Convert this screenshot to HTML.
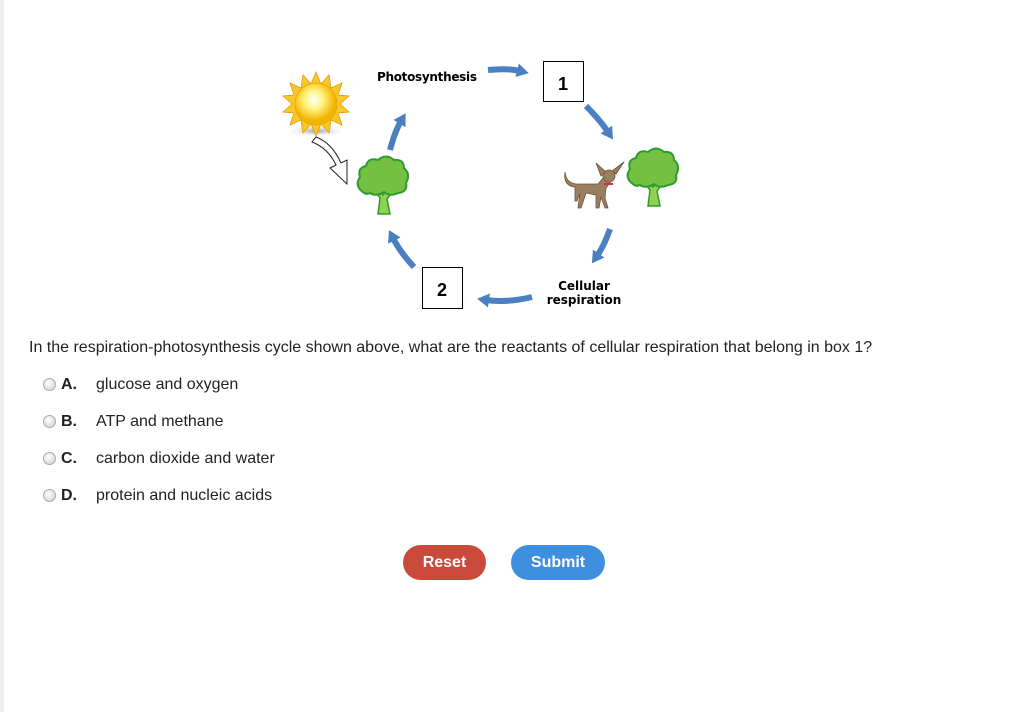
<!DOCTYPE html>
<html><head><style>
body{margin:0;width:1011px;height:712px;background:#fff;position:relative;overflow:hidden;font-family:"Liberation Sans",Arial,sans-serif;}
.lb{position:absolute;left:0;top:0;width:4px;height:712px;background:#eee;}
.q{position:absolute;left:29px;top:339px;font-size:16px;color:#222;white-space:nowrap;}
.opt{position:absolute;left:43px;font-size:16px;color:#222;}
.opt .r{position:absolute;left:0;top:2px;width:11px;height:11px;border-radius:50%;border:1px solid #aaa;background:radial-gradient(circle at 40% 35%,#fff,#ccc);}
.opt b{position:absolute;left:18px;top:0;}
.opt span{position:absolute;left:53px;top:0;white-space:nowrap;}
.btn{position:absolute;top:545px;height:35px;border-radius:18px;color:#fff;font-weight:bold;font-size:16px;text-align:center;line-height:35px;}
</style></head><body>
<div class="lb"></div>
<svg width="1011" height="330" style="position:absolute;left:0;top:0" font-family="DejaVu Sans,Verdana,sans-serif">
<defs><marker id="ah" markerUnits="userSpaceOnUse" markerWidth="14" markerHeight="14" refX="3" refY="7" orient="auto"><path d="M0,0L12,7L0,14z" fill="#4a80c1"/></marker>
<radialGradient id="sg" cx="45%" cy="40%"><stop offset="0" stop-color="#fff"/><stop offset="0.45" stop-color="#fff480"/><stop offset="1" stop-color="#f3b400"/></radialGradient>
<radialGradient id="sh"><stop offset="0" stop-color="#999"/><stop offset="1" stop-color="#fff" stop-opacity="0"/></radialGradient></defs>
<g fill="none" stroke="#4a80c1" stroke-width="6" marker-end="url(#ah)">
<path d="M488,70 Q508,68 520,71"/>
<path d="M586,106 Q600,120 608,132"/>
<path d="M610,229 Q604,246 597,256"/>
<path d="M532,297 Q507,303 486,300"/>
<path d="M414,267 Q400,252 393,238"/>
<path d="M390,150 Q395,131 401,121"/>
</g>
<rect x="543.5" y="61.5" width="40" height="40" fill="#fff" stroke="#000"/>
<text x="563" y="90" font-family="Liberation Sans,Arial" font-weight="bold" font-size="18" text-anchor="middle">1</text>
<rect x="422.5" y="267.5" width="40" height="41" fill="#fff" stroke="#000"/>
<text x="442" y="296" font-family="Liberation Sans,Arial" font-weight="bold" font-size="18" text-anchor="middle">2</text>
<text x="377" y="81" font-size="12" font-weight="bold" textLength="100">Photosynthesis</text>
<text x="584" y="290" font-size="12" font-weight="bold" text-anchor="middle">Cellular</text>
<text x="584" y="304" font-size="12" font-weight="bold" text-anchor="middle">respiration</text>
<ellipse cx="316" cy="131" rx="30" ry="6" fill="url(#sh)"/>
<g fill="#f8c72a" stroke="#e39a00" stroke-width="0.8">
<polygon points="316,72 321,84 329,75 331,88 342,83 338,95 349,96 340,104 349,112 338,113 342,125 331,120 329,133 321,124 316,136 311,124 303,133 301,120 290,125 294,113 283,112 292,104 283,96 294,95 290,83 301,88 303,75 311,84"/>
</g>
<circle cx="316" cy="104" r="21" fill="url(#sg)" stroke="#f0a800"/>
<path d="M312,142 Q328,148 336,165 L330,168 L347,184 L347,160 L341,163 Q332,143 316,137 Z" fill="#fff" stroke="#222" stroke-width="1"/>
<g id="tree">
<path d="M378,214 L380,198 L372,188 L376,186 L383,195 L391,186 L395,188 L387,199 L390,214 Z" fill="#8fd24e" stroke="#2f9a2f" stroke-width="1.5"/>
<path d="M363,192 Q354,186 360,177 Q357,168 366,166 Q368,157 378,160 Q386,153 394,160 Q404,159 404,168 Q411,174 406,183 Q408,192 398,193 Q390,197 384,192 Q376,197 370,193 Q366,195 363,192 Z" fill="#74c043" stroke="#2f9a2f" stroke-width="2"/>
</g>
<use href="#tree" transform="translate(270,-8)"/>
<g fill="#9a8060" stroke="#6b5238" stroke-width="0.8">
<path d="M565,172 Q566,184 578,184 L598,184 L603,178 L609,174 L612,180 L606,188 L605,198 L608,208 L605,208 L601,197 L599,208 L596,208 L596,195 L586,193 L581,208 L578,208 L580,193 L577,201 L575,201 L575,187 Q563,186 565,172 Z"/>
<path d="M596,163 L606,172 L601,176 Z M624,162 L616,174 L612,171 Z"/>
<ellipse cx="609" cy="176" rx="6" ry="6"/>
</g>
<path d="M604,184 L613,184" stroke="#d0304a" stroke-width="2"/>
</svg>
<div class="q">In the respiration-photosynthesis cycle shown above, what are the reactants of cellular respiration that belong in box 1?</div>
<div class="opt" style="top:376px"><i class="r"></i><b>A.</b><span>glucose and oxygen</span></div>
<div class="opt" style="top:413px"><i class="r"></i><b>B.</b><span>ATP and methane</span></div>
<div class="opt" style="top:450px"><i class="r"></i><b>C.</b><span>carbon dioxide and water</span></div>
<div class="opt" style="top:487px"><i class="r"></i><b>D.</b><span>protein and nucleic acids</span></div>
<div class="btn" style="left:403px;width:83px;background:#c94a3b">Reset</div>
<div class="btn" style="left:511px;width:94px;background:#3f8fdf">Submit</div>
</body></html>
